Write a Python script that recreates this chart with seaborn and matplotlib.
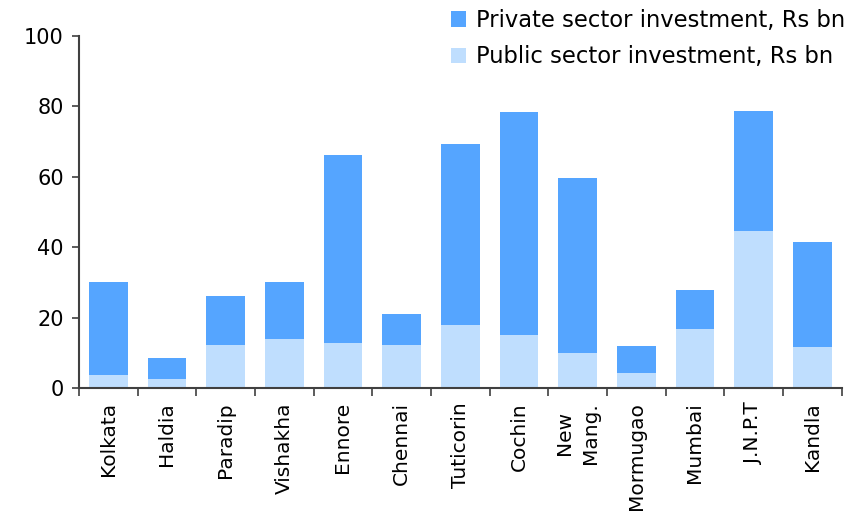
import matplotlib
matplotlib.use("Agg")
import matplotlib.pyplot as plt
import seaborn as sns
import pandas as pd
import numpy as np

ports = ["Kolkata", "Haldia", "Paradip", "Vishakha", "Ennore", "Chennai",
         "Tuticorin", "Cochin", "New\nMang.", "Mormugao", "Mumbai",
         "J.N.P.T", "Kandla"]
public_inv = [3.8, 2.6, 12.3, 14.0, 12.8, 12.3, 17.9, 15.1, 10.0, 4.3, 16.8, 44.6, 11.7]
private_inv = [26.3, 6.0, 13.9, 16.1, 53.3, 8.8, 51.3, 63.2, 49.6, 7.7, 11.1, 34.0, 29.8]
y_ticks = [0, 20, 40, 60, 80, 100]

private_label = "Private sector investment, Rs bn"
public_label = "Public sector investment, Rs bn"
private_color = "#55A5FF"
public_color = "#BFDEFE"

df = pd.DataFrame({"port": ports, "public": public_inv, "private": private_inv})
df["total"] = df["public"] + df["private"]

sns.set_theme(style="white")
plt.rcParams["font.family"] = ["DejaVu Sans"]
plt.rcParams["text.color"] = "black"
plt.rcParams["xtick.color"] = "black"
plt.rcParams["ytick.color"] = "black"

fig = plt.figure(figsize=(8.54, 5.24), dpi=100)
ax = fig.add_axes([0.0925, 0.259, 0.893, 0.673])

# stacked bars: full height in the private colour, public share drawn over it
sns.barplot(data=df, x="port", y="total", color=private_color, width=0.66,
            saturation=1, ax=ax, label=private_label, linewidth=0)
sns.barplot(data=df, x="port", y="public", color=public_color, width=0.66,
            saturation=1, ax=ax, label=public_label, linewidth=0)

ax.set_xlim(-0.5, len(ports) - 0.5)
ax.set_ylim(0, 100)
ax.set_yticks(y_ticks)
ax.set_xlabel("")
ax.set_ylabel("")

# category labels on major ticks, tick marks on category boundaries
ax.set_xticks(np.arange(len(ports)))
ax.set_xticklabels(ports, rotation=90, fontsize=14.5, linespacing=1.45, va="top", ha="center")
ax.set_xticks(np.arange(len(ports) + 1) - 0.5, minor=True)
ax.tick_params(axis="x", which="major", length=0, pad=10, labelcolor="black")
ax.tick_params(axis="x", which="minor", length=6, width=1.2, color="#404040", direction="out", bottom=True)
ax.tick_params(axis="y", length=5, width=1.2, color="#404040", direction="out", left=True,
               labelsize=15, pad=6, labelcolor="black")

for side in ("top", "right"):
    ax.spines[side].set_visible(False)
for side in ("left", "bottom"):
    ax.spines[side].set_color("#404040")
    ax.spines[side].set_linewidth(1.5)

handles, labels = ax.get_legend_handles_labels()
if ax.legend_:
    ax.legend_.remove()
fig.legend(handles, labels, loc="upper left", bbox_to_anchor=(0.528, 0.983), frameon=False,
           fontsize=16.3, handlelength=0.65, handleheight=0.65, handletextpad=0.45,
           labelspacing=0.6, borderaxespad=0, borderpad=0, labelcolor="black")

fig.savefig("out.png", dpi=100)
